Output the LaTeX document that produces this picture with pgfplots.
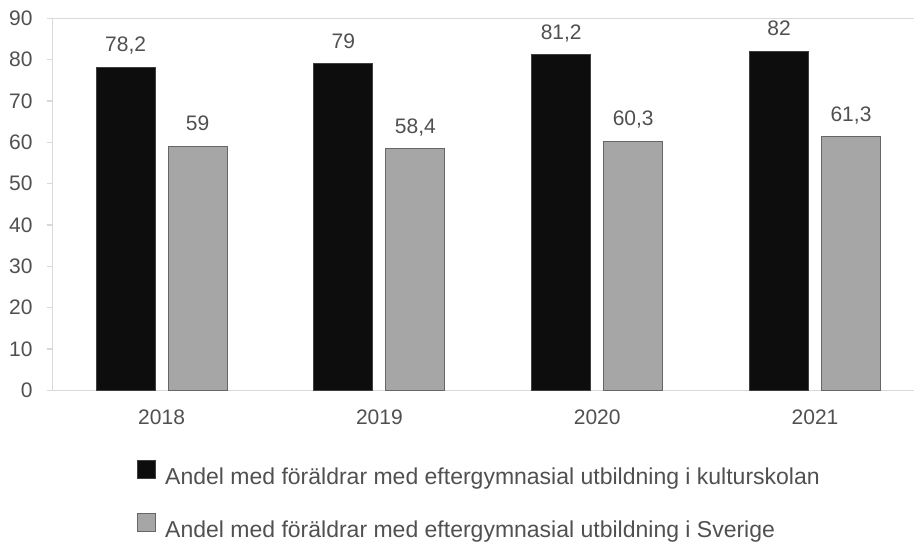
\documentclass[border=0pt]{standalone}
\usepackage{pgfplots}
\pgfplotsset{compat=1.18}
\usepackage{fontspec}
\setmainfont{Liberation Sans}
\definecolor{txt}{HTML}{505050}
\definecolor{axisgray}{HTML}{D9D9D9}
\definecolor{barblack}{HTML}{0D0D0D}
\definecolor{bargray}{HTML}{A6A6A6}
\definecolor{edgeblack}{HTML}{404040}
\definecolor{edgegray}{HTML}{666666}
\begin{document}
\fontsize{21bp}{25bp}\selectfont
\begin{tikzpicture}
\path[use as bounding box] (-52.7bp,-151.7bp) rectangle (861.3bp,390.3bp);
\begin{axis}[
  at={(0,0)}, anchor=south west,
  scale only axis, width=871.2bp, height=372bp,
  xmin=-0.5, xmax=3.5, ymin=0, ymax=90,
  ybar=13bp, bar width=59bp,
  xtick={0,1,2,3}, xticklabels={2018,2019,2020,2021},
  ytick={0,10,...,90},
  axis lines*=left,
  axis line style={axisgray, line width=1.5bp},
  tick align=outside, major tick length=6bp,
  ytick style={axisgray, line width=1.5bp},
  xtick style={draw=none},
  tick label style={font=\fontsize{21bp}{25bp}\selectfont, text=txt},
  /pgf/number format/assume math mode=true,
  yticklabel style={anchor=east, inner sep=0pt, xshift=-14bp},
  xticklabel style={anchor=base, inner sep=0pt, yshift=-28bp},
  nodes near coords={\pgfmathprintnumber[use comma]{\pgfplotspointmeta}},
  every node near coord/.append style={anchor=base, inner sep=0pt, yshift=15.6bp, text=txt, font=\fontsize{21bp}{25bp}\selectfont},
  legend image code/.code={\draw[#1, line width=1bp] (0bp,-1bp) rectangle (18bp,17bp);},
  legend style={at={(0.0968,-0.188)}, anchor=north west, draw=none, fill=none, inner sep=0pt,
    font=\fontsize{23bp}{27bp}\selectfont, text=txt, row sep=25bp,
    nodes={inner sep=0pt},
    /tikz/every odd column/.append style={column sep=9bp}},
  legend cell align=left,
  clip=false,
]
\addplot[fill=barblack, draw=edgeblack, line width=1bp] coordinates {(0,78.2) (1,79) (2,81.2) (3,82)};
\addplot[fill=bargray, draw=edgegray, line width=1bp] coordinates {(0,59) (1,58.4) (2,60.3) (3,61.3)};
\draw[axisgray, line width=1.5bp] (rel axis cs:0,1) -- (rel axis cs:1,1);
\legend{Andel med föräldrar med eftergymnasial utbildning i kulturskolan, Andel med föräldrar med eftergymnasial utbildning i Sverige}
\end{axis}
\end{tikzpicture}
\end{document}
